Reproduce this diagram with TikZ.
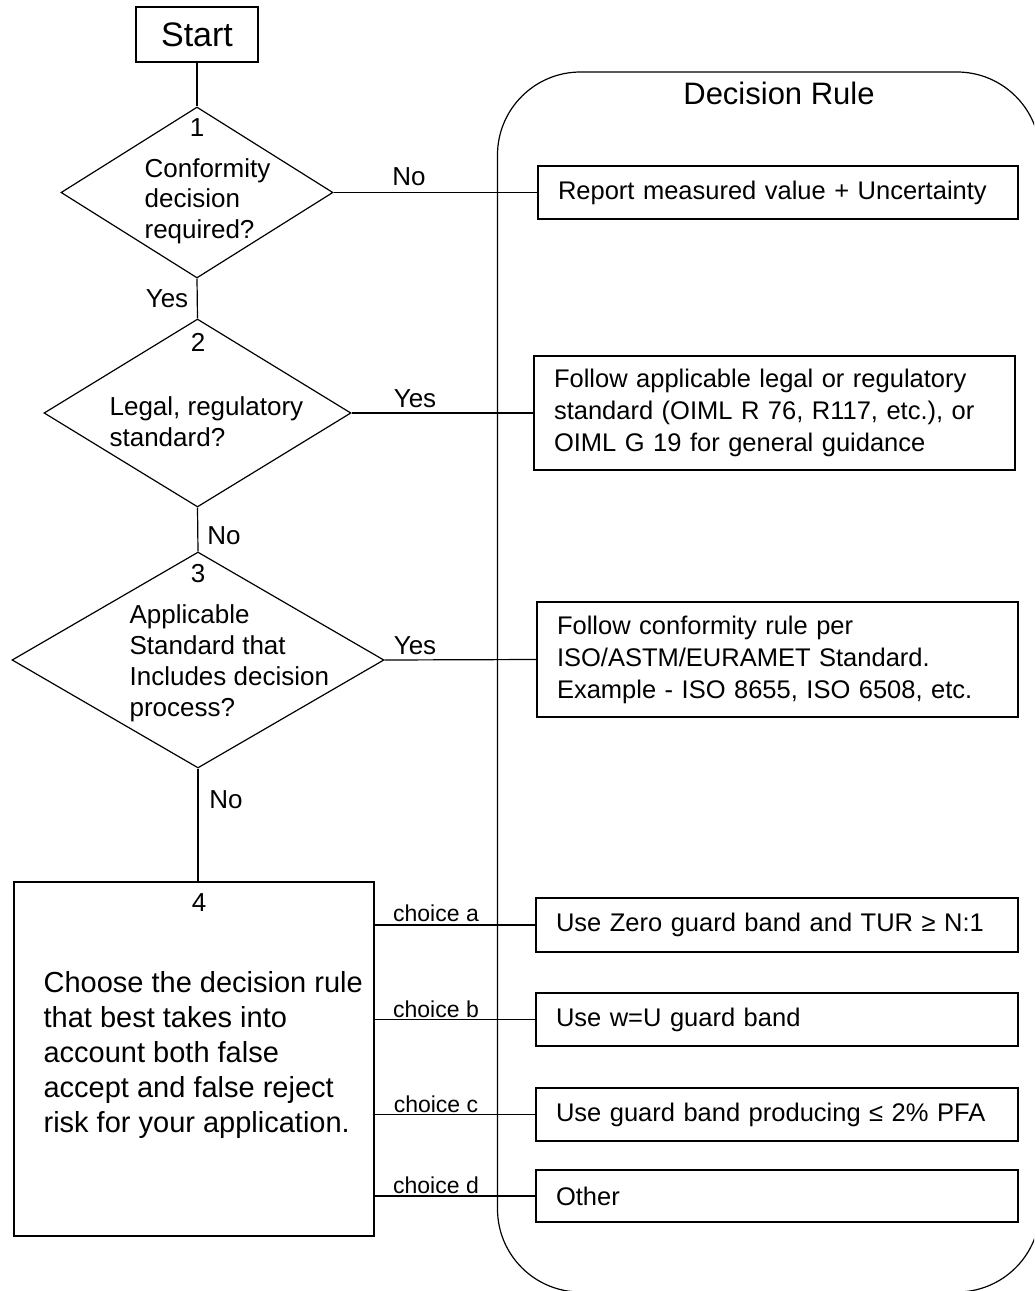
\documentclass[tikz,border=0pt]{standalone}
\usepackage{fontspec}
\setmainfont{Liberation Sans}
\usetikzlibrary{shapes.geometric}

\newcommand{\fsz}[2]{\fontsize{#1}{#2}\selectfont}

\begin{document}
\begin{tikzpicture}[x=1pt, y=-1pt, line width=1.2pt,
  box/.style={draw, rectangle, inner sep=0pt},
  rulebox/.style={draw, rectangle, inner xsep=20pt, inner ysep=0pt, align=left, font=\fsz{25.5}{32}},
  dmd/.style={draw, diamond, inner sep=0pt},
  qtext/.style={anchor=north west, inner sep=0pt, align=left, font=\fsz{26}{31}},
  num/.style={inner sep=0pt, font=\fsz{26}{31}},
  lbl/.style={inner sep=0pt, font=\fsz{26}{31}, text height=19pt, text depth=0pt},
  chc/.style={inner sep=0pt, font=\fsz{23}{27}, text height=16.5pt, text depth=0pt}]

\useasboundingbox (0,0) rectangle (1034,1291);
\clip (0,0) rectangle (1034,1291);

% Decision rule frame (its right side lies just off the page)
\draw (1040,155) arc[start angle=0, end angle=-90, radius=83] -- (580.5,72)
  arc[start angle=-90, end angle=-180, radius=83] -- (497.5,1209)
  arc[start angle=180, end angle=90, radius=83] -- (957,1292)
  arc[start angle=90, end angle=0, radius=83];
\node[inner sep=0pt, font=\fsz{31}{36}] (title) at (779,93) {Decision Rule};


% Start and the questions
\node[box, minimum width=122pt, minimum height=55pt, font=\fsz{34}{40}] (start) at (197,34.5) {Start};

\node[dmd, minimum width=272pt, minimum height=171pt] (q1) at (197,192.5) {};
\node[num] (n1) at (197,128) {1};
\node[qtext, font=\fsz{26}{30.5}] (t1) at (144,157.6) {Conformity\\decision\\required?};

\node[dmd, minimum width=307pt, minimum height=188pt] (q2) at (197.5,413) {};
\node[num] (n2) at (198,342) {2};
\node[qtext] (t2) at (109,395.6) {Legal, regulatory\\standard?};

\node[dmd, minimum width=372pt, minimum height=216pt] (q3) at (198,660) {};
\node[num] (n3) at (198,574) {3};
\node[qtext, font=\fsz{26}{31.3}] (t3) at (129,603.6) {Applicable\\Standard that\\Includes decision\\process?};

\node[box, minimum width=360pt, minimum height=354pt] (q4) at (194,1059) {};
\node[num] (n4) at (199,903) {4};
\node[qtext, font=\fsz{29}{35}] (t4) at (43,970.6) {Choose the decision rule\\that best takes into\\account both false\\accept and false reject\\risk for your application.};


% Rule boxes
\node[rulebox, text width=440pt, minimum height=53pt] (r1) at (778,192.5) {Report measured value + Uncertainty};
\node[rulebox, text width=441pt, minimum height=114pt] (r2) at (774.5,413) {Follow applicable legal or regulatory\\standard (OIML R 76, R117, etc.), or\\OIML G 19 for general guidance};
\node[rulebox, text width=441pt, minimum height=115pt] (r3) at (777.5,659.5) {Follow conformity rule per\\ISO/ASTM/EURAMET Standard.\\Example - ISO 8655, ISO 6508, etc.};

\node[rulebox, text width=442pt, minimum height=54pt] (ca) at (777,925) {Use Zero guard band and TUR ≥ N:1};
\node[rulebox, text width=442pt, minimum height=53pt] (cb) at (777,1019.5) {Use w=U guard band};
\node[rulebox, text width=442pt, minimum height=53pt] (cc) at (777,1114.5) {Use guard band producing ≤ 2\% PFA};
\node[rulebox, text width=442pt, minimum height=52pt] (cd) at (777,1196) {Other};


% Connectors
\draw (start.south) -- (q1.north);
\draw (q1.south) -- (q2.north);
\draw (q2.south) -- (q3.north);
\draw (q3.south) -- (q3.south |- q4.north);

\draw (q1.east) -- (r1.west);
\draw (q2.east) -- (r2.west);
\draw (q3.east) -- (r3.west);

\foreach \c in {ca,cb,cc,cd}
  \draw (q4.east |- \c.west) -- (\c.west);


% Labels
\node[lbl] (l1) at (409,176) {No};
\node[lbl] (l2) at (167,298) {Yes};
\node[lbl] (l3) at (415,398) {Yes};
\node[lbl] (l4) at (224,535) {No};
\node[lbl] (l5) at (415,645) {Yes};
\node[lbl] (l6) at (226,799) {No};

\foreach \c/\y/\t in {ca/913/a, cb/1009/b, cc/1104/c, cd/1185/d}
  \node[chc] (l\c) at (436,\y) {choice \t};

\end{tikzpicture}
\end{document}
